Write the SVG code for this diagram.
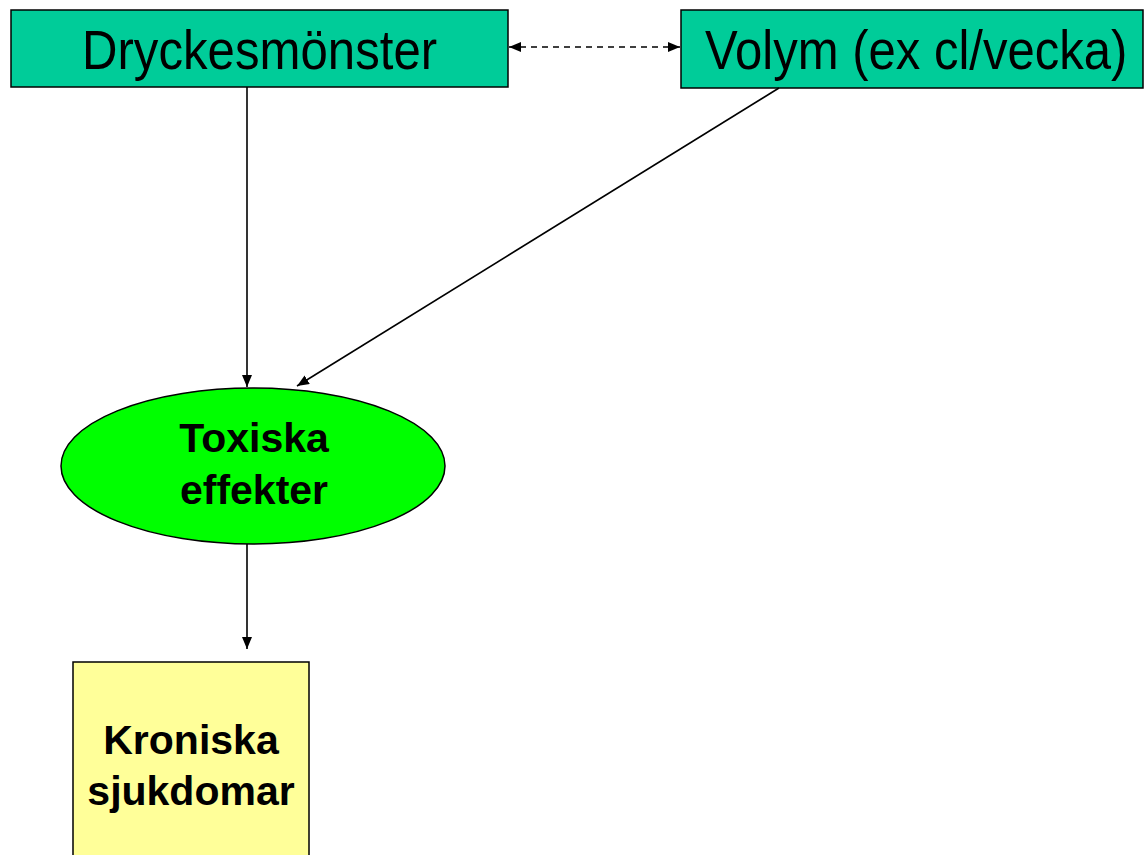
<svg xmlns="http://www.w3.org/2000/svg" width="1144" height="855" viewBox="0 0 1144 855">
<defs>
<marker id="ah" viewBox="0 0 12 10" refX="12" refY="5" markerWidth="12" markerHeight="10" markerUnits="userSpaceOnUse" orient="auto-start-reverse">
<path d="M0,0 L12,5 L0,10 z" fill="#000"/>
</marker>
<style>
.box{fill:#00CC99;stroke:#000;stroke-width:1.5}
.t{font-family:"Liberation Sans",Arial,sans-serif;font-size:56px;fill:#000}
.b{font-family:"Liberation Sans",Arial,sans-serif;font-size:41px;font-weight:bold;fill:#000;text-anchor:middle}
.c{stroke:#000;stroke-width:1.6;fill:none}
</style>
</defs>
<rect width="1144" height="855" fill="#fff"/>
<g id="dryckesmonster">
<rect class="box" x="11" y="10" width="497" height="77"/>
<text class="t" transform="translate(82,69) scale(0.878,1)">Dryckesmönster</text>
</g>
<g id="volym">
<rect class="box" x="681" y="10" width="462" height="78"/>
<text class="t" transform="translate(705,69) scale(0.876,1)">Volym (ex cl/vecka)</text>
</g>
<g id="toxiska">
<ellipse cx="253" cy="466" rx="192" ry="78" fill="#00FF00" stroke="#000" stroke-width="1.5"/>
<text class="b" x="254" y="452">Toxiska</text>
<text class="b" x="254" y="504">effekter</text>
</g>
<g id="kroniska">
<rect x="73" y="662" width="236" height="200" fill="#FFFF99" stroke="#000" stroke-width="1.5"/>
<text class="b" x="191" y="754">Kroniska</text>
<text class="b" x="191" y="805">sjukdomar</text>
</g>
<g id="connectors">
<line class="c" x1="247" y1="87" x2="247" y2="387" marker-end="url(#ah)"/>
<line class="c" x1="779" y1="88" x2="297" y2="386" marker-end="url(#ah)"/>
<line class="c" x1="247" y1="544" x2="247" y2="649" marker-end="url(#ah)"/>
<line class="c" x1="509" y1="47" x2="680" y2="47" stroke-dasharray="6,5" marker-start="url(#ah)" marker-end="url(#ah)"/>
</g>
</svg>
